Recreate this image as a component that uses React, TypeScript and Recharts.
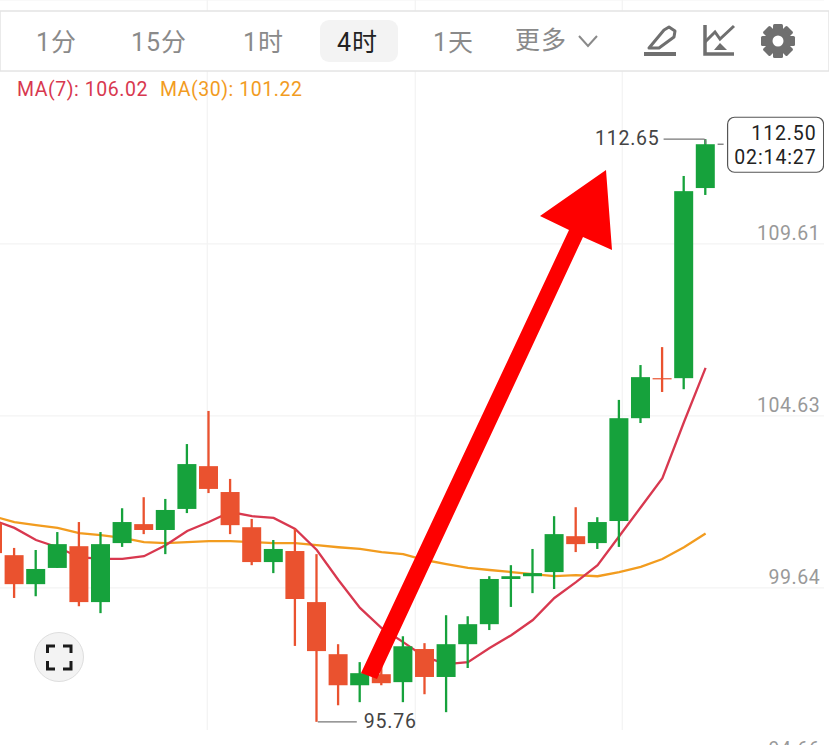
import { ComposedChart, Bar, Line, XAxis, YAxis, CartesianGrid, ReferenceDot } from 'recharts'

const FONT = 'Roboto, "Noto Sans CJK SC", sans-serif'
const GREEN = '#16a23c'
const RED = '#ea522f'
const MA7_COLOR = '#d8384f'
const MA30_COLOR = '#f29c1f'

const opens = [101.52, 100.59, 99.75, 100.22, 100.85, 99.23, 100.94, 101.49, 101.32, 101.93, 103.17, 102.42, 101.4, 100.39, 100.71, 99.23, 97.72, 96.82, 97.14, 96.91, 97.87, 97.06, 98.01, 98.59, 99.9, 99.98, 100.1, 101.14, 100.94, 101.58, 104.56, 105.72, 105.72, 111.23]
const closes = [100.65, 99.75, 100.19, 100.91, 99.23, 100.91, 101.55, 101.32, 101.9, 103.23, 102.51, 101.46, 100.39, 100.77, 99.32, 97.81, 96.82, 97.17, 96.88, 97.95, 97.06, 98.01, 98.59, 99.9, 99.98, 100.07, 101.2, 100.91, 101.55, 104.56, 105.75, 105.69, 111.14, 112.5]
const highs = [101.6, 100.8, 100.74, 101.26, 101.55, 101.26, 101.95, 102.27, 102.22, 103.81, 104.77, 102.8, 101.64, 101.03, 101.35, 100.62, 98.01, 97.49, 97.55, 98.24, 98.04, 98.85, 98.82, 99.98, 100.3, 100.77, 101.72, 101.98, 101.69, 105.09, 106.1, 106.62, 111.58, 112.65]
const lows = [100.6, 99.35, 99.4, 100.22, 99.11, 98.91, 100.83, 101.2, 100.62, 101.81, 102.39, 101.2, 100.3, 100.07, 97.96, 95.76, 96.24, 96.33, 96.82, 96.33, 96.56, 96.04, 97.32, 98.42, 99.09, 99.49, 99.61, 100.68, 100.77, 100.83, 104.42, 105.32, 105.4, 111.03]
const ma7 = [101.61, 101.38, 101.03, 100.82, 100.53, 100.48, 100.48, 100.56, 100.88, 101.29, 101.55, 101.84, 101.72, 101.67, 101.35, 100.74, 99.87, 99.06, 98.48, 98.07, 97.64, 97.43, 97.49, 97.9, 98.27, 98.71, 99.35, 99.81, 100.3, 101.14, 101.98, 102.82, 104.45, 106.02]
const ma30 = [101.72, 101.55, 101.46, 101.38, 101.23, 101.17, 101.09, 100.97, 100.94, 100.97, 101.0, 101.0, 100.97, 100.94, 100.94, 100.88, 100.82, 100.77, 100.68, 100.62, 100.45, 100.33, 100.22, 100.16, 100.1, 100.04, 99.98, 100.01, 99.98, 100.1, 100.25, 100.48, 100.82, 101.22]
const priceTicks = [94.66, 99.64, 104.63, 109.61]
const emptySlots = ['e1', 'e2', 'e3', 'e4', 'e5']

const tabs = [
  { label: '1分', x: 36 },
  { label: '15分', x: 131 },
  { label: '1时', x: 243 },
  { label: '4时', x: 337, active: true },
  { label: '1天', x: 433 },
  { label: '更多', x: 515 },
]

const data = [
  ...opens.map((open, i) => ({
    name: `c${i}`,
    open,
    close: closes[i],
    high: highs[i],
    low: lows[i],
    ma7: ma7[i],
    ma30: ma30[i],
  })),
  ...emptySlots.map((name) => ({ name })),
]

function Candle(props: any) {
  const { x, y, width, height, payload } = props
  if (payload.open === undefined) return null
  const h = Math.abs(height)
  const perUnit = h / (payload.high - payload.low)
  const up = payload.close >= payload.open
  const color = up ? GREEN : RED
  const top = y + (payload.high - Math.max(payload.open, payload.close)) * perUnit
  const bodyH = Math.max(1.2, Math.abs(payload.open - payload.close) * perUnit)
  return (
    <g>
      <rect x={x + width / 2 - 1.15} y={y} width={2.3} height={h} fill={color} />
      <rect x={x} y={top} width={width} height={bodyH} fill={color} />
    </g>
  )
}

function HighLabel({ cx, cy }: any) {
  return (
    <g>
      <path d={`M${cx - 42} ${cy}H${cx - 2}Q${cx} ${cy} ${cx} ${cy + 2}V${cy + 5}`} fill="none" stroke="#777" strokeWidth={1.3} />
      <text x={cx - 46} y={cy + 6} textAnchor="end" fontFamily={FONT} fontSize={19.5} letterSpacing={0.8} fill="#444">112.65</text>
    </g>
  )
}

function LowLabel({ cx, cy }: any) {
  return (
    <g>
      <path d={`M${cx + 1} ${cy}H${cx + 40}`} fill="none" stroke="#777" strokeWidth={1.3} />
      <text x={cx + 47} y={cy + 6} fontFamily={FONT} fontSize={19.5} letterSpacing={0.8} fill="#444">95.76</text>
    </g>
  )
}

function LastPrice({ cx, cy }: any) {
  return (
    <g>
      <path d={`M${cx + 12} ${cy}H${cx + 18}`} stroke="#777" strokeWidth={1.3} />
      <rect x={cx + 22} y={cy - 27} width={96} height={55} rx={7} fill="#fff" stroke="#555" strokeWidth={1.2} />
      <text x={cx + 111} y={cy - 4} textAnchor="end" fontFamily={FONT} fontSize={19.5} letterSpacing={0.9} fill="#222">112.50</text>
      <text x={cx + 111} y={cy + 20} textAnchor="end" fontFamily={FONT} fontSize={19.5} letterSpacing={0.9} fill="#222">02:14:27</text>
    </g>
  )
}

function Overlay() {
  return (
    <svg width={829} height={745} style={{ position: 'absolute', left: 0, top: 0, pointerEvents: 'none' }}>
      <rect x={0} y={11} width={829} height={60} fill="#fff" stroke="#e4e4e4" strokeWidth={1.5} />
      <rect x={320} y={20} width={78} height={42} rx={9} fill="#f3f3f3" />
      {tabs.map((t) => (
        <text key={t.label} x={t.x} y={t.label === '更多' ? 49 : 51} fontFamily={FONT} fontSize={25} letterSpacing={1} fill={t.active ? '#222' : '#8a8a8a'}>
          {t.label}
        </text>
      ))}
      <path d="M579 36L588 46L597 36" fill="none" stroke="#8a8a8a" strokeWidth={2} />
      {/* pencil */}
      <path d="M649 48L664 30L669 27L675 31L674 37L659 48Z" fill="none" stroke="#6f6f6f" strokeWidth={3} strokeLinejoin="round" />
      <rect x={644} y={52} width={32} height={4} fill="#6f6f6f" />
      {/* indicator icon */}
      <path d="M705 25V54H734" fill="none" stroke="#6f6f6f" strokeWidth={3.5} />
      <path d="M705 42L715 32L720 39L734 26" fill="none" stroke="#6f6f6f" strokeWidth={3} />
      <path d="M714 50L720 43L727 50Z" fill="#6f6f6f" />
      {/* gear */}
      {[0, 45, 90, 135].map((a) => (
        <rect key={a} x={773} y={24} width={10} height={34} rx={1.5} fill="#6f6f6f" transform={`rotate(${a} 778 41)`} />
      ))}
      <circle cx={778} cy={41} r={12.5} fill="#6f6f6f" />
      <circle cx={778} cy={41} r={5.5} fill="#fff" />

      <text y={96} fontFamily={FONT} fontSize={19.5} letterSpacing={0.55}>
        <tspan x={17} fill={MA7_COLOR}>MA(7): {ma7[ma7.length - 1].toFixed(2)}</tspan>
        <tspan x={160} fill={MA30_COLOR}>MA(30): {ma30[ma30.length - 1].toFixed(2)}</tspan>
      </text>

      {/* fullscreen button */}
      <circle cx={59} cy={657} r={24.5} fill="#f3f3f3" stroke="#dedede" strokeWidth={1} />
      <path d="M47.5 653V646H55M63 646H71V653M71 661V669H63M55 669H47.5V661" fill="none" stroke="#1a1a1a" strokeWidth={3} />

      {/* hand drawn arrow */}
      <path d="M361 673L569 230L540 216L606 170L612 250L583 237L377 679Z" fill="#fe0000" />
    </svg>
  )
}

export default function App() {
  return (
    <div style={{ position: 'absolute', left: 0, top: 0, width: 829, height: 745, overflow: 'hidden', background: '#fff' }}>
      <div style={{ position: 'absolute', left: -18.3, top: 0 }}>
        <ComposedChart width={842.4} height={770} data={data} margin={{ top: 0, right: 0, bottom: 0, left: 0 }} barSize={19}>
          <CartesianGrid stroke="#f3f3f3" strokeWidth={1.2} verticalPoints={[225.3, 433.3, 640.3]} />
          <XAxis dataKey="name" hide />
          <YAxis
            orientation="right"
            mirror
            domain={[94.364, 116.68]}
            ticks={priceTicks}
            interval={0}
            axisLine={false}
            tickLine={false}
            tickFormatter={(v: number) => v.toFixed(2)}
            tick={{ fill: '#999', fontSize: 19.5, fontFamily: FONT, letterSpacing: 0.6, dy: -11, dx: 4 }}
          />
          <Line dataKey="ma30" stroke={MA30_COLOR} strokeWidth={2.3} dot={false} isAnimationActive={false} zIndex={300} />
          <Line dataKey="ma7" stroke={MA7_COLOR} strokeWidth={2.3} dot={false} isAnimationActive={false} zIndex={300} />
          <Bar dataKey={(d: any) => (d.open === undefined ? null : [d.low, d.high])} shape={Candle} isAnimationActive={false} zIndex={500} />
          <ReferenceDot x="c33" y={112.65} shape={HighLabel} ifOverflow="visible" zIndex={600} />
          <ReferenceDot x="c15" y={95.76} shape={LowLabel} ifOverflow="visible" zIndex={600} />
          <ReferenceDot x="c33" y={112.5} shape={LastPrice} ifOverflow="visible" zIndex={600} />
        </ComposedChart>
      </div>
      <div style={{ position: 'absolute', left: 0, top: 730, width: 730, height: 15, background: '#fff' }} />
      <Overlay />
    </div>
  )
}
